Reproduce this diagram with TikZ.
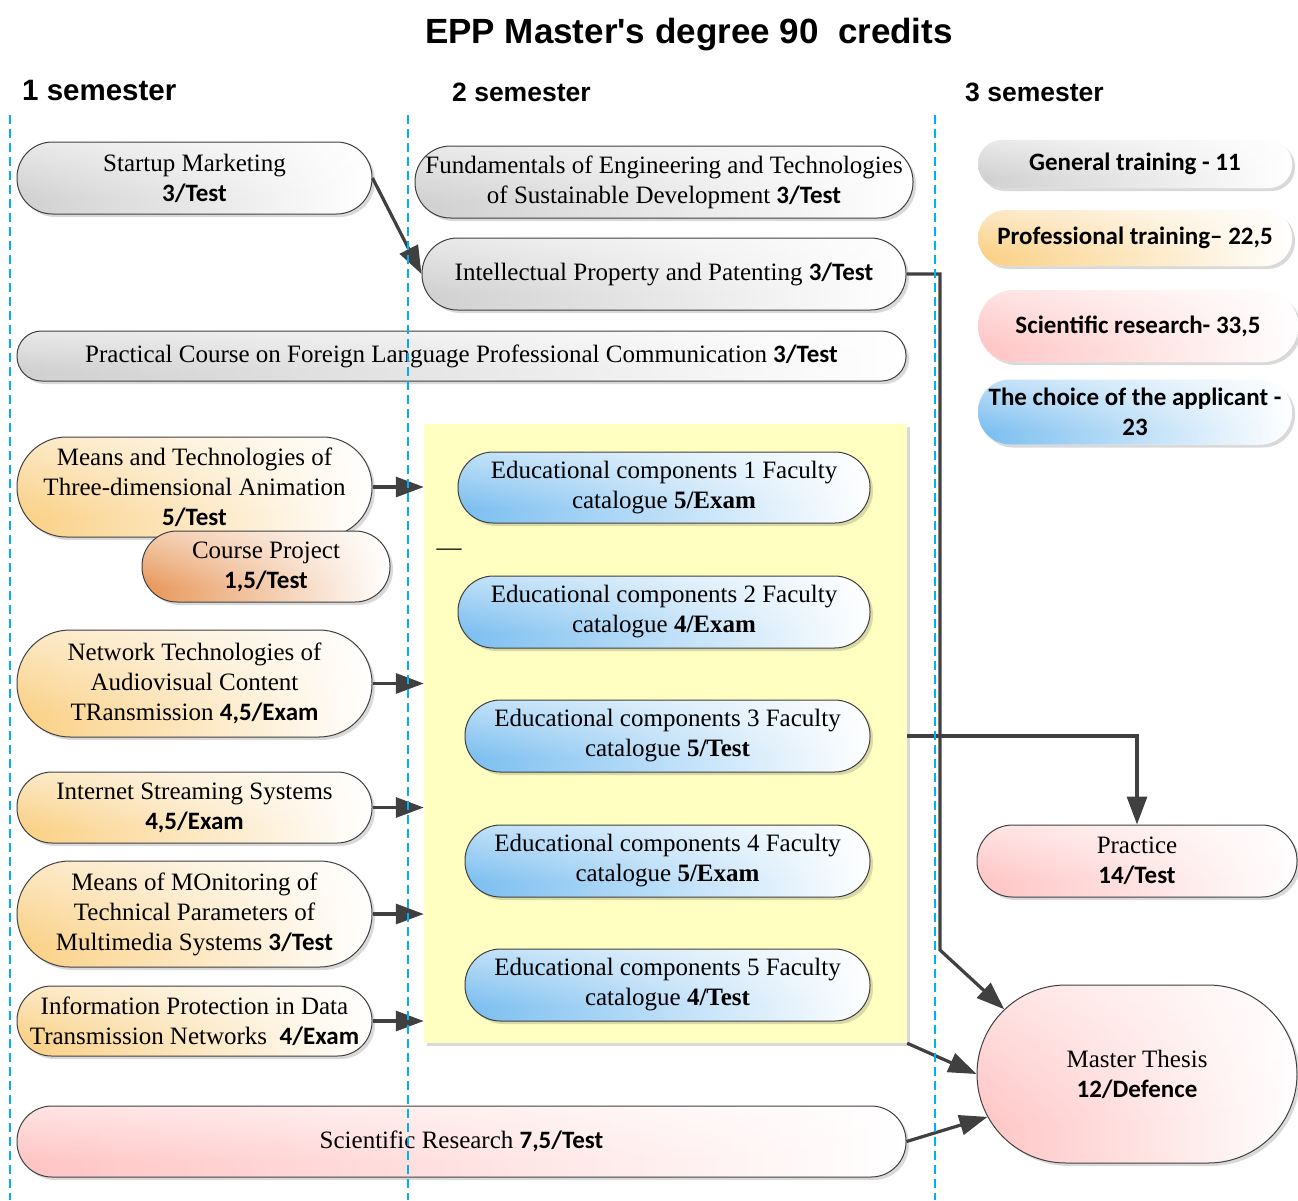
\documentclass[tikz,border=0pt]{standalone}
\usepackage{fontspec}
\setmainfont{Liberation Serif}
\newfontfamily\carlito{Carlito}
\newfontfamily\arialfont{Liberation Sans}
\usetikzlibrary{arrows.meta, shadows, shapes.misc, fadings}

\definecolor{grayshade}{RGB}{208,208,208}
\definecolor{orangeshade}{RGB}{250,208,132}
\definecolor{copper}{RGB}{232,150,88}
\definecolor{pinkshade}{RGB}{255,196,196}
\definecolor{blueshade}{RGB}{122,190,240}
\definecolor{electyellow}{RGB}{255,255,194}
\definecolor{guidecyan}{RGB}{0,176,240}
\definecolor{linegray}{RGB}{64,64,64}

% opaque in the lower part, fading out towards the top
\pgfdeclareverticalshading{tintrise}{100bp}{color(0bp)=(pgftransparent!0); color(35bp)=(pgftransparent!0); color(100bp)=(pgftransparent!85)}
\pgfdeclarefading{tintrise}{\pgfuseshading{tintrise}}

\newcommand{\cred}[1]{{\carlito\bfseries #1}}

\begin{document}
\begin{tikzpicture}[x=1pt, y=-1pt,
        every node/.style={font=\fontsize{25}{30}\selectfont},
        softshadow/.style={drop shadow={shadow xshift=3pt, shadow yshift=-3pt, fill=black, opacity=0.15}},
        pill/.style 2 args={rectangle, draw=black!75, line width=1pt, align=center, inner sep=0pt,
            minimum width=#1pt, minimum height=#2pt, rounded corners=#2pt/2-0.5pt, softshadow},
        % tint in the lower left corner, white towards the top and the right
        shadefill/.style={fill=white, path picture={
            \shade[left color=#1, middle color=#1!75!white, right color=white, path fading=tintrise]
                (path picture bounding box.south west) rectangle (path picture bounding box.north east);}},
        keybox/.style 2 args={pill={#1}{#2}, draw=none, font=\fontsize{25}{30}\selectfont\carlito\bfseries},
        heading/.style={anchor=west, inner sep=0pt, font=\arialfont\bfseries\fontsize{#1}{#1}\selectfont},
        conn/.style={draw=linegray, line width=3.2pt, -{Triangle[length=28pt, width=20pt]}},
        guideline/.style={draw=guidecyan, line width=1.3pt, dash pattern=on 9pt off 5pt}]

    \useasboundingbox (0,0) rectangle (1298,1200);

    \node[font=\arialfont\bfseries\fontsize{35}{40}\selectfont] (title) at (689,35) {EPP Master's degree 90\ \ credits};
    \node[heading=29.5] (sem1) at (22,90) {1 semester};
    \node[heading=26.5] (sem2) at (452,92) {2 semester};
    \node[heading=26.5] (sem3) at (965,92) {3 semester};

    % first semester and the long courses
    \node[pill={355}{72}, shadefill=grayshade] (startup) at (194.5,178) {Startup Marketing\\\cred{3/Test}};
    \node[pill={498}{72}, shadefill=grayshade] (fund) at (664,182) {Fundamentals of Engineering and Technologies\\of Sustainable Development \cred{3/Test}};
    \node[pill={484}{72}, shadefill=grayshade] (ip) at (664,274) {Intellectual Property and Patenting \cred{3/Test}};
    \node[pill={889}{50}, shadefill=grayshade] (lang) at (461.5,356) {Practical Course on Foreign Language Professional Communication \cred{3/Test}};
    \node[pill={355}{100}, shadefill=orangeshade] (anim) at (194.5,487) {Means and Technologies of\\Three-dimensional Animation\\\cred{5/Test}};
    \node[pill={248}{71}, shadefill=copper] (project) at (266,566.5) {Course Project\\\cred{1,5/Test}};
    \node[pill={355}{107}, shadefill=orangeshade] (network) at (194.5,683.5) {Network Technologies of\\Audiovisual Content\\TRansmission \cred{4,5/Exam}};
    \node[pill={355}{71}, shadefill=orangeshade] (stream) at (194.5,807.5) {Internet Streaming Systems\\\cred{4,5/Exam}};
    \node[pill={355}{106}, shadefill=orangeshade] (monitor) at (194.5,914) {Means of MOnitoring of\\Technical Parameters of\\Multimedia Systems \cred{3/Test}};
    \node[pill={355}{70}, shadefill=orangeshade] (protect) at (194.5,1021) {Information Protection in Data\\Transmission Networks \ \cred{4/Exam}};
    \node[pill={889}{71}, shadefill=pinkshade] (research) at (461.5,1141.5) {Scientific Research \cred{7,5/Test}};

    % second semester: faculty catalogue
    \node[rectangle, fill=electyellow, inner sep=0pt, minimum width=483pt, minimum height=619pt, softshadow] (elect) at (665.5,733.5) {};
    \node[pill={412}{71}, shadefill=blueshade] (edu1) at (664,487.5) {Educational components 1 Faculty\\catalogue \textbf{5/Exam}};
    \node[pill={412}{72}, shadefill=blueshade] (edu2) at (664,612) {Educational components 2 Faculty\\catalogue \textbf{4/Exam}};
    \node[pill={405}{72}, shadefill=blueshade] (edu3) at (667.5,736) {Educational components 3 Faculty\\catalogue \textbf{5/Test}};
    \node[pill={405}{72}, shadefill=blueshade] (edu4) at (667.5,861) {Educational components 4 Faculty\\catalogue \textbf{5/Exam}};
    \node[pill={405}{72}, shadefill=blueshade] (edu5) at (667.5,985) {Educational components 5 Faculty\\catalogue \textbf{4/Test}};
    \node (stray) at (449,552) {—};

    % third semester and the key
    \node[keybox={314}{48}, shadefill=grayshade] (keygen) at (1135,164) {General training - 11};
    \node[keybox={314}{56}, shadefill=orangeshade] (keyprof) at (1135,238) {Professional training– 22,5};
    \node[keybox={320}{72}, shadefill=pinkshade] (keysci) at (1138,326) {Scientific research- 33,5};
    \node[keybox={314}{65}, shadefill=blueshade] (keychoice) at (1135,412) {The choice of the applicant -\\23};
    \node[pill={320}{72}, shadefill=pinkshade] (practice) at (1137,861) {Practice\\\cred{14/Test}};
    \node[rounded rectangle, draw=black!75, line width=1pt, align=center, inner sep=0pt,
        minimum width=320pt, minimum height=178pt, softshadow, shadefill=pinkshade] (thesis) at (1137,1074) {Master Thesis\\\cred{12/Defence}};

    \coordinate (bend) at (940,950);
    \draw[conn] (startup.east) -- (ip.west);
    \draw[conn] (ip.east) -| (bend) -- (thesis.154);
    \draw[conn] (anim.east) -- (anim.east -| elect.west);
    \draw[conn] (network.east) -- (network.east -| elect.west);
    \draw[conn] (stream.east) -- (stream.east -| elect.west);
    \draw[conn] (monitor.east) -- (monitor.east -| elect.west);
    \draw[conn] (protect.east) -- (protect.east -| elect.west);
    \draw[conn] (elect.east |- edu3.east) -| (practice.north);
    \draw[conn] (elect.south east) -- (thesis.west);
    \draw[conn] (research.east) -- (thesis.196);

    % semester borders
    \draw[guideline] (10,115) -- (10,1200);
    \draw[guideline] (408,115) -- (408,1200);
    \draw[guideline] (935,115) -- (935,1200);
\end{tikzpicture}
\end{document}
